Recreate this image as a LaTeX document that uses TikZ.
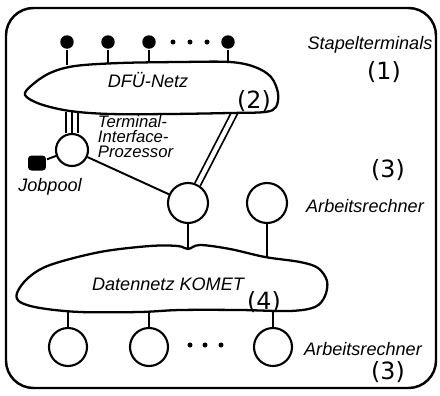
\documentclass[tikz,border=0pt]{standalone}
\usepackage{fontspec}
\newfontfamily\lblfont{Liberation Sans}
\newfontfamily\numfont{DejaVu Sans}
\usetikzlibrary{positioning}

\begin{document}
\begin{tikzpicture}
	[	x=0.02cm, y=-0.02cm,
		line width=1.1pt,
		host/.style={circle,draw=black,line width=1.2pt,minimum size=0.8cm,inner sep=0pt},
		lowhost/.style={host,minimum size=0.76cm},
		tipnode/.style={host,minimum size=0.64cm},
		term/.style={circle,fill=black,minimum size=0.27cm,inner sep=0pt},
		pool/.style={rectangle,rounded corners=2pt,fill=black,minimum width=0.36cm,minimum height=0.3cm,inner sep=0pt},
		dotnode/.style={circle,fill=black,minimum size=0.1cm,inner sep=0pt},
		net/.style={draw=black,line width=1.3pt},
		lbl/.style={font=\lblfont\itshape\fontsize{10.3}{10.3}\selectfont,inner sep=0pt},
		smalllbl/.style={font=\lblfont\itshape\fontsize{9.5}{8.6}\selectfont,inner sep=0pt,align=left},
		num/.style={font=\numfont\fontsize{13.5}{13.5}\selectfont,inner sep=0pt}	]
	\useasboundingbox (0,0) rectangle (440,396);
	% frame
	\draw[line width=1.4pt,rounded corners=0.55cm] (6,8) rectangle (436,388);

	% Stapelterminals
	\foreach \x/\n in {67/1,108/2,149/3,228/4}
		\node[term] (t\n) at (\x,42) {};
	\foreach \x in {173,190,207}
		\node[dotnode] (d\x) at (\x,42) {};
	\coordinate (dfuN) at (0,65);
	\foreach \n in {1,...,4}
		\draw (t\n) -- (t\n |- dfuN);

	% hosts and processor
	\node[tipnode] (tip) at (72,150) {};
	\node[pool] (pool) at (37,163) {};
	\node[host] (rA) at (188,203) {};
	\node[host] (rB) at (267,203) {};
	\foreach \x/\n in {68/1,149/2,273/3}
		\node[lowhost] (l\n) at (\x,347) {};
	\foreach \x in {190,205,221}
		\node[dotnode] (e\x) at (\x,345) {};

	% connections
	\coordinate (dfuS) at (0,112);
	\foreach \s in {-3.4pt,0pt,3.4pt}
		\draw ([xshift=\s]tip.north) -- ([xshift=\s]tip.north |- dfuS);
	\draw (pool) -- (tip);
	\draw (tip) -- (rA);
	\coordinate (dfuB) at (235,112);
	\draw[double,double distance=2.4pt,line width=1pt] (dfuB) -- (rA);
	\coordinate (kA) at (188,248);
	\coordinate (kB) at (267,257);
	\draw (rA) -- (kA);
	\draw (rB) -- (kB);
	\coordinate (kS) at (0,311);
	\foreach \n in {1,2,3}
		\draw (l\n) -- (l\n |- kS);

	% networks
	\draw[net,fill=white] plot[smooth cycle,tension=0.55] coordinates {(25,95) (32,85) (50,73) (75,66) (120,63) (180,62) (230,62) (255,67) (271,77) (278,93) (276,107) (265,112) (230,113) (170,114) (110,114) (70,111) (40,104)};
	\draw[net] plot[smooth cycle,tension=0.55] coordinates {(17,293) (28,278) (50,265) (100,252) (150,246) (178,246) (188,249) (200,245) (230,249) (265,257) (300,262) (318,268) (327,281) (325,296) (315,307) (290,311) (240,310) (180,310) (140,312) (80,312) (40,308) (20,302)};

	% labels
	\node[lbl] (stapel) at (370,45) {Stapelterminals};
	\node[num] (n1) at (384,72) {(1)};
	\node[lbl] (dfu) at (148,80) {DFÜ-Netz};
	\node[num] (n2) at (254,101) {(2)};
	\node[smalllbl,anchor=north west] (tiplbl) at (97,114) {Terminal-\\Interface-\\Prozessor};
	\node[lbl] (jobpool) at (50,187) {Jobpool};
	\node[num] (n3a) at (388,170) {(3)};
	\node[lbl] (arb1) at (365,206) {Arbeitsrechner};
	\node[lbl] (komet) at (168,284) {Datennetz KOMET};
	\node[num] (n4) at (264,302) {(4)};
	\node[lbl] (arb2) at (363,349) {Arbeitsrechner};
	\node[num] (n3b) at (388,372) {(3)};
\end{tikzpicture}
\end{document}
